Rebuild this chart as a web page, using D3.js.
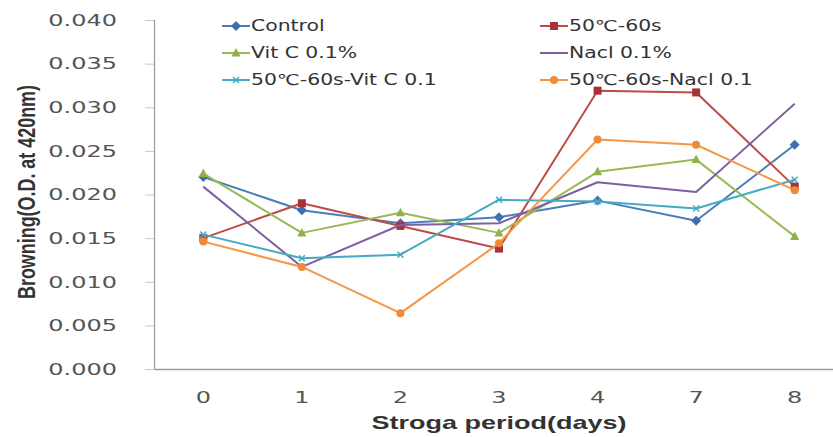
<!DOCTYPE html>
<html>
<head>
<meta charset="utf-8">
<script src="https://cdn.jsdelivr.net/npm/d3@7"></script>
<style>
  html, body { margin: 0; padding: 0; background: #fff; }
  svg { display: block; }
</style>
</head>
<body>
<svg id="chart" width="833" height="437"></svg>
<script>
// Storage days (categories on the x axis)
const days = ["0", "1", "2", "3", "4", "7", "8"];

// Browning O.D. at 420 nm for each treatment
const control      = [0.0220, 0.0182, 0.0167, 0.0174, 0.0193, 0.0170, 0.0257];
const heat         = [0.0150, 0.0190, 0.0164, 0.0138, 0.0319, 0.0317, 0.0209];
const vitC         = [0.0224, 0.0156, 0.0179, 0.0156, 0.0226, 0.0240, 0.0152];
const nacl         = [0.0209, 0.0117, 0.0165, 0.0167, 0.0214, 0.0203, 0.0304];
const heatVitC     = [0.0154, 0.0127, 0.0131, 0.0194, 0.0192, 0.0184, 0.0217];
const heatNacl     = [0.0146, 0.0117, 0.0064, 0.0144, 0.0263, 0.0257, 0.0205];

const seriesNames  = ["Control", "50\u2103-60s", "Vit C 0.1%", "Nacl 0.1%", "50\u2103-60s-Vit C 0.1", "50\u2103-60s-Nacl 0.1"];
const seriesValues = [control, heat, vitC, nacl, heatVitC, heatNacl];
const seriesColors = ["#4a7ebb", "#be4b48", "#98b954", "#7d60a0", "#46aac5", "#f79646"];
const markerFills  = ["#3f6fae", "#a8323a", "#8fb04a", null, "#46aac5", "#f08a36"];
const markerTypes  = ["diamond", "square", "triangle", "none", "cross", "circle"];

const yTicks = [0, 0.005, 0.010, 0.015, 0.020, 0.025, 0.030, 0.035, 0.040];

const svg = d3.select("#chart");

const x = d3.scaleBand().domain(days).range([154, 844]).paddingInner(0).paddingOuter(0);
const y = d3.scaleLinear().domain([0, 0.04]).range([369, 20]);
const cx = d => x(d) + x.bandwidth() / 2;

// Axes
const yAxis = svg.append("g").attr("transform", "translate(154,0)")
  .call(d3.axisLeft(y).tickValues(yTicks).tickSize(9).tickFormat(""));
yAxis.select(".domain").attr("stroke", "#9a9a9a").attr("stroke-width", 1.2);
yAxis.selectAll(".tick line").attr("stroke", "#c8c8c8");

const xAxis = svg.append("g").attr("transform", "translate(0,369)")
  .call(d3.axisBottom(x).tickSize(0).tickFormat(""));
xAxis.select(".domain").attr("stroke", "#9a9a9a").attr("stroke-width", 1.5);

// Tick labels, drawn wide like the original chart lettering
svg.append("g").selectAll("g").data(yTicks).join("g")
  .attr("transform", d => `translate(117,${y(d)}) scale(1.5,1)`)
  .append("text")
  .attr("text-anchor", "end").attr("dy", "0.36em")
  .attr("font-family", "DejaVu Sans").attr("font-size", 16).attr("fill", "#555")
  .text(d => d3.format(".3f")(d));

svg.append("g").selectAll("g").data(days).join("g")
  .attr("transform", d => `translate(${cx(d)},397) scale(1.5,1)`)
  .append("text")
  .attr("text-anchor", "middle").attr("dy", "0.36em")
  .attr("font-family", "DejaVu Sans").attr("font-size", 16).attr("fill", "#555")
  .text(d => d);

// Axis titles
svg.append("g").attr("transform", "translate(499,423) scale(1.5,1)")
  .append("text").attr("text-anchor", "middle").attr("dy", "0.36em")
  .attr("font-family", "Liberation Sans").attr("font-weight", "bold")
  .attr("font-size", 18).attr("fill", "#333")
  .text("Stroga period(days)");

svg.append("g").attr("transform", "translate(26,192) scale(1.5,1) rotate(-90)")
  .append("text").attr("text-anchor", "middle").attr("dy", "0.36em")
  .attr("font-family", "Liberation Sans").attr("font-weight", "bold")
  .attr("font-size", 16).attr("fill", "#333")
  .attr("textLength", 214).attr("lengthAdjust", "spacingAndGlyphs")
  .text("Browning(O.D. at 420nm)");

// Marker drawing
function drawMarker(sel, type, color, fill) {
  const s = 5;
  if (type === "diamond") {
    sel.append("path").attr("d", `M0,${-s}L${s},0L0,${s}L${-s},0Z`).attr("fill", fill);
  } else if (type === "square") {
    sel.append("rect").attr("x", -4).attr("y", -4).attr("width", 8).attr("height", 8).attr("fill", fill);
  } else if (type === "triangle") {
    sel.append("path").attr("d", `M0,-5L4.5,3.5L-4.5,3.5Z`).attr("fill", fill);
  } else if (type === "circle") {
    sel.append("circle").attr("r", 4).attr("fill", fill);
  } else if (type === "cross") {
    sel.append("path").attr("d", "M-3,-3L3,3M-3,3L3,-3").attr("stroke", color).attr("stroke-width", 1.5).attr("fill", "none");
  }
}

const line = d3.line().x((d, i) => cx(days[i])).y(d => y(d));

seriesValues.forEach((vals, k) => {
  const g = svg.append("g");
  g.append("path").datum(vals).attr("d", line)
    .attr("fill", "none").attr("stroke", seriesColors[k]).attr("stroke-width", 2)
    .attr("stroke-linejoin", "round");
  vals.forEach((v, i) => {
    const m = g.append("g").attr("transform", `translate(${cx(days[i])},${y(v)})`);
    drawMarker(m, markerTypes[k], seriesColors[k], markerFills[k]);
  });
});

// Legend: two columns, three rows
const legendX = [222, 540];
const legendY = [26, 53, 80];
seriesNames.forEach((name, k) => {
  const col = k % 2, row = Math.floor(k / 2);
  const g = svg.append("g").attr("transform", `translate(${legendX[col]},${legendY[row]})`);
  g.append("line").attr("x1", 0).attr("x2", 28).attr("y1", 0).attr("y2", 0)
    .attr("stroke", seriesColors[k]).attr("stroke-width", 2);
  const m = g.append("g").attr("transform", "translate(14,0)");
  drawMarker(m, markerTypes[k], seriesColors[k], markerFills[k]);
  g.append("g").attr("transform", "translate(29,0) scale(1.36,1)")
    .append("text").attr("dy", "0.36em")
    .attr("font-family", "DejaVu Sans").attr("font-size", 15).attr("fill", "#333")
    .text(name);
});
</script>
</body>
</html>
